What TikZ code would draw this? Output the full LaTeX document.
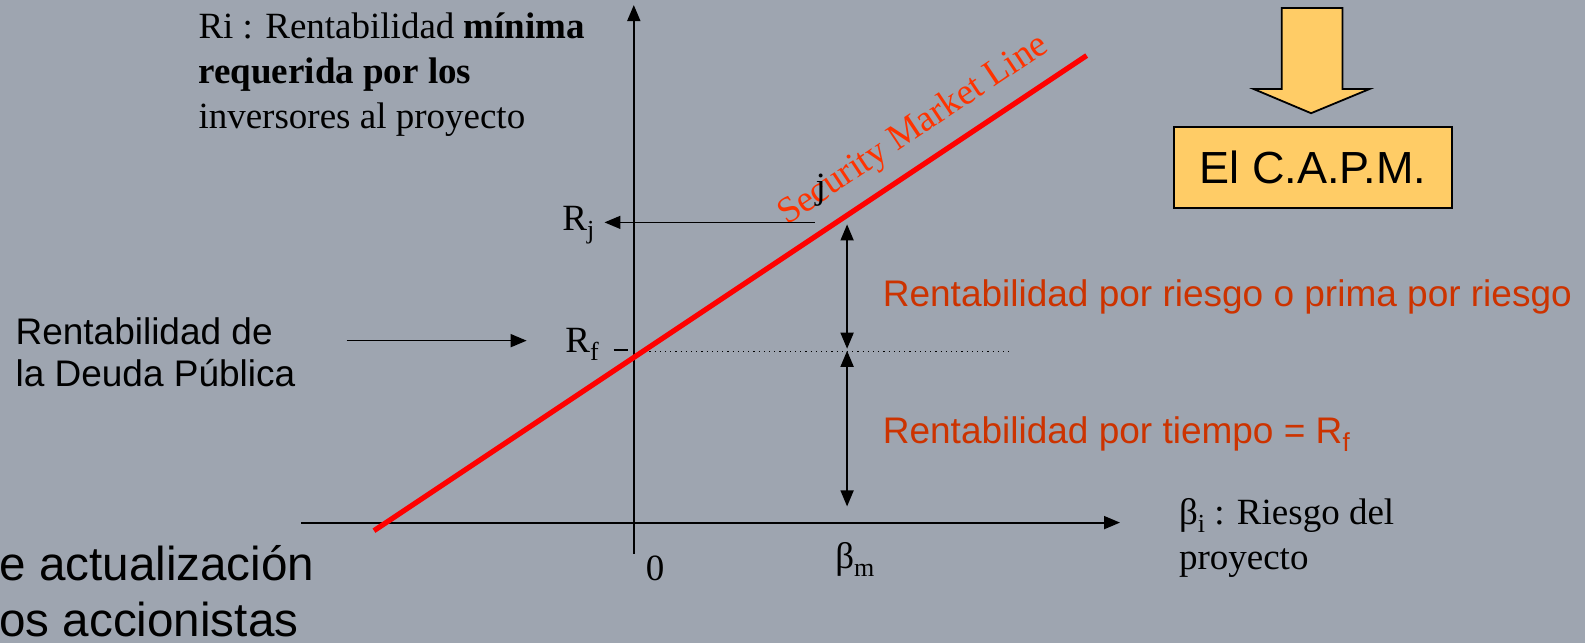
\documentclass[tikz,border=0pt]{standalone}
\usepackage{fontspec}
\setmainfont{Liberation Serif}
\newfontfamily\arialf{Liberation Sans}
\usetikzlibrary{arrows.meta}
\definecolor{bgc}{RGB}{158,165,176}
\definecolor{smlred}{RGB}{255,0,0}
\definecolor{txtred}{RGB}{204,51,0}
\definecolor{smltxt}{RGB}{255,51,0}
\definecolor{capmy}{RGB}{255,204,102}
\newcommand\lowsub[1]{\raisebox{-4pt}{\fontsize{13}{13}\selectfont #1}}
\tikzset{
  serif/.style={font=\fontsize{18.5}{22.5}\selectfont, inner sep=0pt, text=black},
  sans/.style={font=\arialf\fontsize{18.5}{21}\selectfont, inner sep=0pt, text=black},
  redsans/.style={sans, text=txtred},
  bigsans/.style={font=\arialf\fontsize{23.8}{28}\selectfont, inner sep=0pt, text=black},
  axisline/.style={line width=0.9pt, black},
  arr/.style={line width=0.8pt, black, -{Triangle[length=8pt,width=6.5pt]}},
  dblarr/.style={line width=0.8pt, black, {Triangle[length=8pt,width=6.5pt]}-{Triangle[length=8pt,width=6.5pt]}},
}
\begin{document}
\begin{tikzpicture}[x=0.50542pt,y=-0.50542pt]
\fill[bgc] (0,0) rectangle (1568,636);
\useasboundingbox (0,0) rectangle (1568,636);

% axes
\coordinate (ytop) at (627,5);
\coordinate (ybot) at (627,548);
\coordinate (xl) at (298,517);
\coordinate (xr) at (1108,517);
\draw[axisline, -{Triangle[length=8pt,width=6.5pt]}] (ybot) -- (ytop);
\draw[axisline, -{Triangle[length=8pt,width=6.5pt]}] (xl) -- (xr);

% Rf dotted level
\coordinate (rfa) at (627,348);
\coordinate (rfb) at (1000,348);
\draw[dotted, line width=0.6pt] (rfa) -- (rfb);
\coordinate (dsa) at (607,346);
\coordinate (dsb) at (621,346);
\draw[line width=0.8pt] (dsa) -- (dsb);

% security market line
\coordinate (sml1) at (370,525);
\coordinate (sml2) at (1075,55);
\draw[smlred, line width=2.6pt] (sml1) -- (sml2);
\node[serif, text=smltxt, rotate=33.7] (smltext) at (904,129) {Security Market Line};

% Rj
\node[serif, anchor=base west] (Rj) at (556,228) {R\lowsub{j}};
\coordinate (rjs) at (806,220);
\coordinate (rjt) at (598,220);
\draw[arr] (rjs) -- (rjt);
\node[serif] (jlab) at (812,188) {j};

% Rf
\node[serif, anchor=base west] (Rf) at (559,349) {R\lowsub{f}};

% double arrows
\coordinate (ua) at (838,222);
\coordinate (um) at (838,345);
\coordinate (lm) at (838,347);
\coordinate (lb) at (838,501);
\draw[dblarr] (um) -- (ua);
\draw[dblarr] (lm) -- (lb);

% labels on axis
\node[serif, anchor=base west] (beta) at (826,562) {β\lowsub{m}};
\node[serif] (zero) at (648,562) {0};
\node[serif, anchor=north west, align=left] (xlab) at (1166,493) {β\lowsub{i} : Riesgo del\\proyecto};

% y axis label
\node[serif, anchor=north west, align=left] (ylab) at (196,12) {Ri : Rentabilidad \textbf{mínima}\\\textbf{requerida por los}\\inversores al proyecto};

% red texts
\node[redsans, anchor=west] (prima) at (873,294) {Rentabilidad por riesgo o prima por riesgo};
\node[redsans, anchor=west] (tiempo) at (873,429) {Rentabilidad por tiempo = R\lowsub{f}};

% deuda publica
\node[sans, anchor=north west, align=left] (deuda) at (15,314) {Rentabilidad de\\la Deuda Pública};
\coordinate (das) at (343,337);
\coordinate (dat) at (521,337);
\draw[arr] (das) -- (dat);

% cut text
\node[bigsans, anchor=north west, align=left] (cut) at (-1,539) {e actualización\\os accionistas};

% block arrow and CAPM box
\draw[fill=capmy, line width=0.9pt, line join=miter] (1268,8) -- (1328,8) -- (1328,88) -- (1355,88) -- (1297,112) -- (1240,88) -- (1268,88) -- cycle;
\node[draw, line width=0.9pt, fill=capmy, minimum width=139pt, minimum height=40.4pt, font=\arialf\fontsize{22.5}{24}\selectfont] (capm) at (1299,166) {El C.A.P.M.};
\end{tikzpicture}
\end{document}
